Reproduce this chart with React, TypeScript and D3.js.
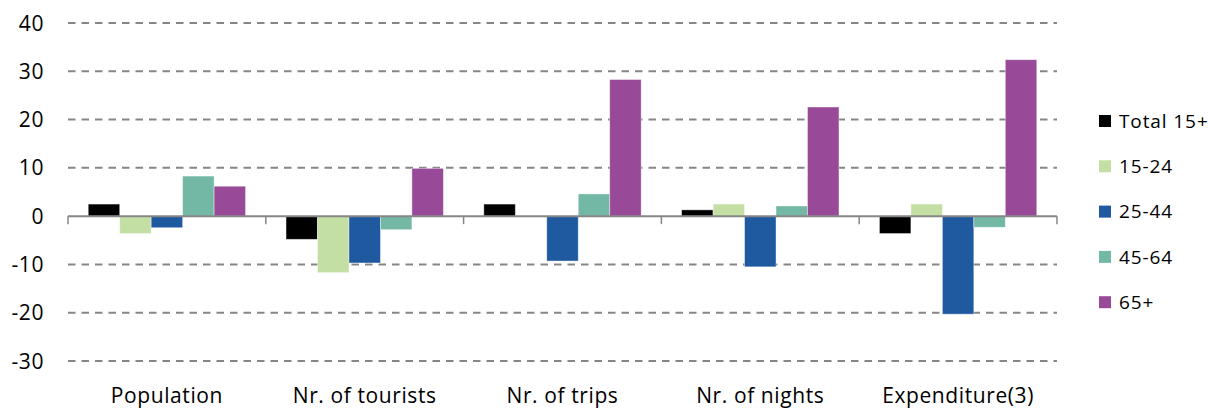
import React from "react";
import * as d3 from "d3";

const categories = ["Population", "Nr. of tourists", "Nr. of trips", "Nr. of nights", "Expenditure(3)"];
const seriesNames = ["Total 15+", "15-24", "25-44", "45-64", "65+"];
const seriesColors = ["#000000", "#c4dfa3", "#1f5aa0", "#72b8a4", "#984a98"];
const total15 = [2.5, -4.8, 2.5, 1.3, -3.6];
const age15_24 = [-3.6, -11.7, 0, 2.5, 2.5];
const age25_44 = [-2.4, -9.7, -9.3, -10.5, -20.3];
const age45_64 = [8.3, -2.8, 4.6, 2.1, -2.3];
const age65 = [6.2, 9.9, 28.3, 22.6, 32.4];
const yTicks = [40, 30, 20, 10, 0, -10, -20, -30];

const seriesValues = [total15, age15_24, age25_44, age45_64, age65];

export default function App() {
  const W = 1208, H = 408;
  const left = 68, right = 1057, top = 23, bottom = 361;
  const x0 = d3.scaleBand<string>().domain(categories).range([left, right]).paddingInner(0).paddingOuter(0);
  const x1 = d3.scaleBand<string>().domain(seriesNames).range([0, x0.bandwidth()]).paddingInner(0).paddingOuter(0.643);
  const y = d3.scaleLinear().domain([-30, 40]).range([bottom, top]);
  const font = "'Open Sans', sans-serif";
  const boundaries = [...categories.map((c) => x0(c)!), right];

  return (
    <svg width={W} height={H} style={{ position: "absolute", left: 0, top: 0 }}>
      <rect width={W} height={H} fill="#fff" />
      {yTicks.filter((t) => t !== 0).map((t) => (
        <line key={t} x1={left} x2={right} y1={y(t)} y2={y(t)} stroke="#868686" strokeWidth={2} strokeDasharray="7.5,6" />
      ))}
      {yTicks.map((t) => (
        <text key={"l" + t} x={44} y={y(t)} dy="0.36em" textAnchor="end" fontFamily={font} fontSize={21} letterSpacing={0.6} fill="#000">
          {t}
        </text>
      ))}
      {categories.map((c, ci) =>
        seriesNames.map((s, si) => {
          const v = seriesValues[si][ci];
          if (v === 0) return null;
          const bx = x0(c)! + x1(s)!;
          const y0 = y(0), yv = y(v);
          return (
            <rect key={c + s} x={bx} y={Math.min(y0, yv)} width={x1.bandwidth()} height={Math.abs(yv - y0)}
              fill={seriesColors[si]} stroke="#ffffff" strokeOpacity={0.5} strokeWidth={0.8} />
          );
        })
      )}
      <line x1={left} x2={right} y1={y(0)} y2={y(0)} stroke="#868686" strokeWidth={2} />
      {boundaries.map((b, i) => (
        <line key={"t" + i} x1={b} x2={b} y1={y(0)} y2={y(0) + 8} stroke="#868686" strokeWidth={1.5} />
      ))}
      {categories.map((c) => (
        <text key={"c" + c} x={x0(c)! + x0.bandwidth() / 2} y={403} textAnchor="middle" fontFamily={font} fontSize={21} letterSpacing={0.6} fill="#000">
          {c}
        </text>
      ))}
      {seriesNames.map((s, i) => (
        <g key={"lg" + s} transform={`translate(1099, ${121 + i * 45.3})`}>
          <rect x={0} y={-6} width={12} height={12} fill={seriesColors[i]} />
          <text x={20} y={0} dy="0.36em" fontFamily={font} fontSize={19} letterSpacing={0.9} fill="#000">{s}</text>
        </g>
      ))}
    </svg>
  );
}
